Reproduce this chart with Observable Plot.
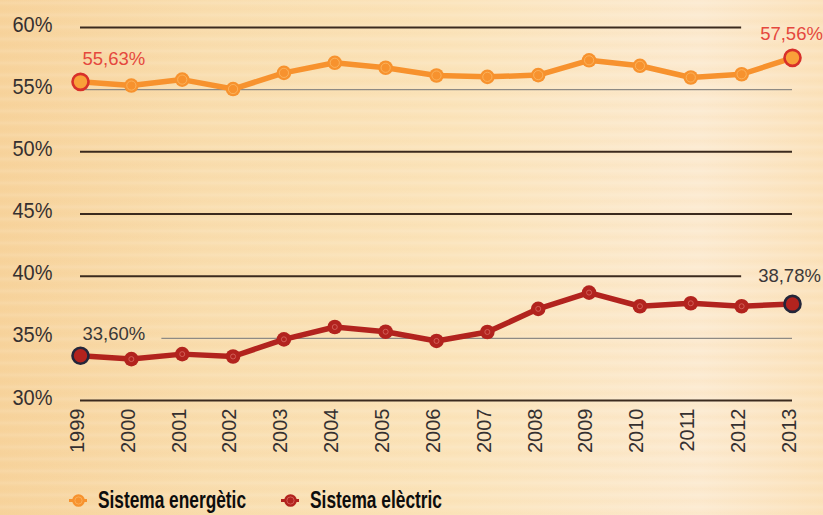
<!DOCTYPE html>
<html>
<head>
<meta charset="utf-8">
<script src="https://cdn.jsdelivr.net/npm/d3@7"></script>
<script src="https://cdn.jsdelivr.net/npm/@observablehq/plot@0.6"></script>
<style>
  html, body { margin: 0; padding: 0; }
  body {
    width: 823px; height: 515px; overflow: hidden;
    background:
      repeating-linear-gradient(180deg, rgba(255,255,255,0.00) 0px, rgba(255,255,255,0.10) 3px, rgba(255,255,255,0.00) 6px, rgba(240,190,120,0.06) 9px, rgba(255,255,255,0) 12px),
      linear-gradient(90deg, #f7d39c 0%, #f9ddae 25%, #fbe4bb 55%, #fcead0 85%, #fbe2bb 100%);
  }
  #chart svg { background: transparent !important; display: block; }
  #legend {
    height: 33px; position: relative;
    font-family: "Liberation Sans", Arial, sans-serif;
    font-weight: bold; font-size: 24px; color: #0d0d0d;
  }
  .item { position: absolute; top: 6px; height: 24px; display: flex; align-items: center; }
  .item svg { margin-right: 10px; }
  .item span { display: inline-block; transform-origin: 0 50%; white-space: nowrap; line-height: 24px; }
</style>
</head>
<body>
<div id="chart"></div>
<div id="legend"></div>
<script>
const years = [1999, 2000, 2001, 2002, 2003, 2004, 2005, 2006, 2007, 2008, 2009, 2010, 2011, 2012, 2013];
const energetic = [55.63, 55.33, 55.81, 55.05, 56.35, 57.16, 56.76, 56.14, 56.03, 56.17, 57.36, 56.92, 55.98, 56.24, 57.56];
const electric  = [33.60, 33.33, 33.73, 33.54, 34.92, 35.91, 35.53, 34.79, 35.51, 37.37, 38.68, 37.58, 37.82, 37.58, 37.77];
const seriesNames = ["Sistema energètic", "Sistema elèctric"];
const firstLabels = ["55,63%", "33,60%"];
const lastLabels = ["57,56%", "38,78%"];
const yTicks = [30, 35, 40, 45, 50, 55, 60];
const gridDark = [30, 40, 45, 50, 60];
const gridLight = [35, 55];
const gridStart = {30: 1999, 35: 2000.6, 40: 1999, 45: 1999, 50: 1999, 55: 1999, 60: 1999};
const gridEnd = {30: 2013, 35: 2013, 40: 2012, 45: 2013, 50: 2013, 55: 2013, 60: 2012};

const eData = years.map((y, i) => ({year: y, value: energetic[i]}));
const cData = years.map((y, i) => ({year: y, value: electric[i]}));
const eEnds = [eData[0], eData[eData.length - 1]];
const cEnds = [cData[0], cData[cData.length - 1]];

const ORANGE = "#f7922e", ORANGE_IN = "#fbb45f", ORANGE_RING = "#d8302a";
const RED = "#b2231e", RED_IN = "#d86a62", RED_RING = "#24263a";
const FONT = "'Liberation Sans', Arial, sans-serif";

const chart = Plot.plot({
  width: 823,
  height: 482,
  marginTop: 27,
  marginBottom: 82,
  marginLeft: 80,
  marginRight: 31,
  style: {background: "transparent", fontFamily: FONT, color: "#3a3430"},
  x: {domain: [1999, 2013]},
  y: {domain: [30, 60]},
  marks: [
    Plot.ruleY(gridLight, {y: d => d, x1: d => gridStart[d], x2: d => gridEnd[d], stroke: "#8e8a84", strokeWidth: 1.3}),
    Plot.ruleY(gridDark, {y: d => d, x1: d => gridStart[d], x2: d => gridEnd[d], stroke: "#3b2a1e", strokeWidth: 2}),
    Plot.axisY({ticks: yTicks, tickSize: 0, tickPadding: 28, dy: -3, tickFormat: d => d + "%", fontSize: 22, fill: "#353030", label: null}),
    Plot.axisX({ticks: years, tickSize: 0, tickPadding: 8, dx: -3, tickRotate: -90, tickFormat: d => String(d), fontSize: 20, fill: "#353030", label: null}),
    Plot.line(eData, {x: "year", y: "value", stroke: ORANGE, strokeWidth: 5.5}),
    Plot.line(cData, {x: "year", y: "value", stroke: RED, strokeWidth: 5.5}),
    Plot.dot(eData, {x: "year", y: "value", r: 7.3, fill: ORANGE}),
    Plot.dot(eData, {x: "year", y: "value", r: 4.6, stroke: ORANGE_IN, strokeWidth: 0.9, fill: "none"}),
    Plot.dot(eEnds, {x: "year", y: "value", r: 8, fill: "#f9a039", stroke: ORANGE_RING, strokeWidth: 2.6}),
    Plot.dot(cData, {x: "year", y: "value", r: 7.3, fill: RED}),
    Plot.dot(cData, {x: "year", y: "value", r: 2.5, stroke: RED_IN, strokeWidth: 0.8, fill: "none"}),
    Plot.dot(cEnds, {x: "year", y: "value", r: 8, fill: RED, stroke: RED_RING, strokeWidth: 2.6}),
    Plot.text([eData[0]], {x: "year", y: "value", text: () => firstLabels[0], dx: 2, dy: -23, textAnchor: "start", fill: "#e5483d", fontSize: 18.5}),
    Plot.text([eData[eData.length - 1]], {x: "year", y: "value", text: () => lastLabels[0], dx: -1, dy: -24, textAnchor: "middle", fill: "#e5483d", fontSize: 18.5}),
    Plot.text([cData[0]], {x: "year", y: "value", text: () => firstLabels[1], dx: 2, dy: -22, textAnchor: "start", fill: "#3a3838", fontSize: 18.5}),
    Plot.text([cData[cData.length - 1]], {x: "year", y: "value", text: () => lastLabels[1], dx: -3, dy: -28, textAnchor: "middle", fill: "#3a3838", fontSize: 18.5})
  ]
});
document.getElementById("chart").appendChild(chart);

// condense the y tick labels like the reference's narrow face
d3.select(chart).selectAll("g[aria-label='y-axis tick label'] text")
  .attr("textLength", 40).attr("lengthAdjust", "spacingAndGlyphs");

// legend
const legend = document.getElementById("legend");
const colors = [[ORANGE, ORANGE_IN], [RED, RED_IN]];
const lefts = [68, 280];
const textWidths = [148, 132];
seriesNames.forEach((name, i) => {
  const item = document.createElement("div");
  item.className = "item";
  item.style.left = lefts[i] + "px";
  const sw = Plot.plot({
    width: 20, height: 20, margin: 0,
    x: {domain: [0, 1], axis: null}, y: {domain: [0, 1], axis: null},
    style: {background: "transparent", overflow: "visible"},
    marks: [
      Plot.ruleY([0.5], {x1: 0.05, x2: 0.95, stroke: colors[i][0], strokeWidth: 3}),
      Plot.dot([0], {x: () => 0.5, y: () => 0.5, r: 6.3, fill: colors[i][0]}),
      Plot.dot([0], {x: () => 0.5, y: () => 0.5, r: 3.6, stroke: colors[i][1], strokeWidth: 0.8, fill: "none"})
    ]
  });
  item.appendChild(sw);
  const t = document.createElement("span");
  t.textContent = name;
  item.appendChild(t);
  legend.appendChild(item);
  const w = t.getBoundingClientRect().width;
  t.style.transform = `scaleX(${textWidths[i] / w})`;
});
</script>
</body>
</html>
